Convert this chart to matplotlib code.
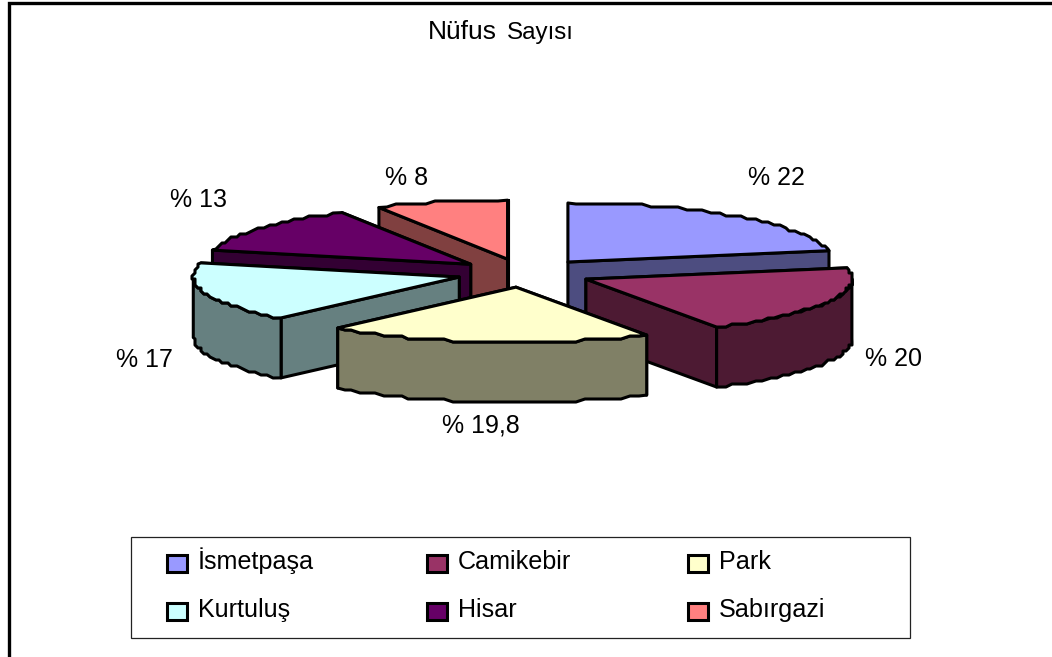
import numpy as np
import matplotlib
matplotlib.use("Agg")
import matplotlib.pyplot as plt
from matplotlib.patches import Polygon, Rectangle

plt.rcParams['font.family'] = ['Liberation Sans', 'DejaVu Sans']

# --- data
categories = ["İsmetpaşa", "Camikebir", "Park", "Kurtuluş", "Hisar", "Sabırgazi"]
values = [22, 20, 19.8, 17, 13, 8]
top_colors = ["#9999FF", "#993366", "#FFFFCC", "#CCFFFF", "#660066", "#FF8080"]
side_colors = ["#4D4D80", "#4D1A33", "#808066", "#668080", "#330033", "#804040"]

# --- layout (pixel space)
W, H = 1052, 657
CX, CY = 524.5, 273    # pie centre
RX = 266               # horizontal radius of the top face
RY_BACK, RY_FRONT = 59, 55
EX, EY = 68, 14.3      # explosion distance
DEPTH = 60             # wall height
SKEW = np.radians(1.0) # slight angular distortion of the 3D view
LW = 2.2
GRID = 3.0             # coarse vertex grid, gives the rough metafile outline
label_offsets = [(39, -41), (67, 53), (-2, 78), (-60, 64), (-62, -30), (-35, -26)]
paint_order = [5, 4, 0, 3, 1, 2]

fig = plt.figure(figsize=(W / 100, H / 100), dpi=100)
ax = fig.add_axes([0, 0, 1, 1])
ax.set_xlim(0, W)
ax.set_ylim(H, 0)
ax.axis("off")

# outer chart frame (top and left edges)
ax.plot([9, 9, W], [H, 3, 3], color="black", lw=2.4, solid_joinstyle="miter", zorder=1)

total = sum(values)
edges = np.concatenate([[0], np.cumsum(values)]) / total * 2 * np.pi


def rough(pts):
    return np.round(np.asarray(pts) / GRID) * GRID


def ellipse(ax0, ay0, t):
    t = np.asarray(t, dtype=float)
    t = t - SKEW * (1 - np.cos(t)) / 2
    c = np.cos(t)
    ry = np.where(c > 0, RY_BACK, RY_FRONT)
    return np.column_stack([ax0 + RX * np.sin(t), ay0 - ry * c])


def arc(ax0, ay0, t0, t1):
    n = max(3, int(abs(t1 - t0) * RX / 9))
    xy = ellipse(ax0, ay0, np.linspace(t0, t1, n))
    xy[1:-1] = rough(xy[1:-1])
    return xy


def poly(pts, color, z):
    ax.add_patch(Polygon(pts, closed=True, facecolor=color, edgecolor="black",
                         lw=LW, joinstyle="round", zorder=z))


z = 2
for i in paint_order:
    t0, t1 = edges[i], edges[i + 1]
    mid = (t0 + t1) / 2
    ax0 = CX + EX * np.sin(mid)
    ay0 = CY - EY * np.cos(mid)
    down = np.array([0, DEPTH])
    apex = np.array([ax0, ay0])
    curve = arc(ax0, ay0, t0, t1)
    # radial walls, farther one first
    for end in sorted((curve[0], curve[-1]), key=lambda p: p[1]):
        poly([apex, end, end + down, apex + down], side_colors[i], z)
        z += 1
    # rim wall: only the part of the arc that faces the viewer
    a, b = max(t0, np.pi / 2), min(t1, 3 * np.pi / 2)
    if a < b:
        rim = arc(ax0, ay0, a, b)
        poly(np.vstack([rim, (rim + down)[::-1]]), side_colors[i], z)
        z += 1
    # top face
    poly(np.vstack([apex, curve]), top_colors[i], z)
    z += 1
    # percentage label
    lx = ax0 + RX * np.sin(mid) + label_offsets[i][0]
    ly = ay0 - RY_BACK * np.cos(mid) + label_offsets[i][1]
    ax.text(lx, ly + 9, "% " + f"{values[i]:g}".replace(".", ","), fontsize=18,
            ha="center", va="baseline", color="black", zorder=50)

# title
ax.text(428, 39, "Nüfus", fontsize=19, ha="left", va="baseline", zorder=50)
ax.text(507, 39, "Sayısı", fontsize=17.4, ha="left", va="baseline", zorder=50)

# legend
ax.add_patch(Rectangle((131, 537), 779, 101, facecolor="white", edgecolor="#222222",
                       lw=0.9, zorder=40))
col_x = [167, 427, 688]
row_y = [555, 603]
for k, name in enumerate(categories):
    x = col_x[k % 3]
    y = row_y[k // 3]
    ax.add_patch(Rectangle((x, y), 20, 17, facecolor=top_colors[k], edgecolor="black",
                           lw=2.2, zorder=41))
    ax.text(x + 31, y + 14, name, fontsize=18.1, ha="left", va="baseline", zorder=50)

fig.savefig("out.png", dpi=100, facecolor="white")
